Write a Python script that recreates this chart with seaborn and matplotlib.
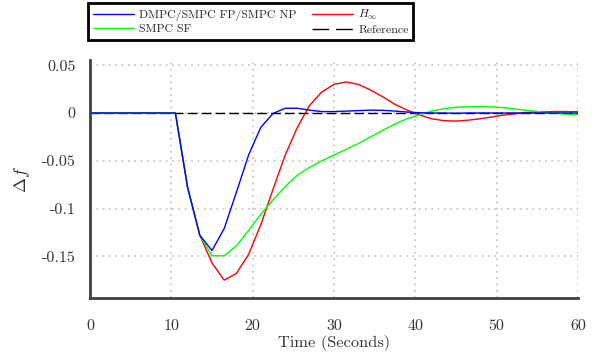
import numpy as np
import pandas as pd
import matplotlib
matplotlib.use("Agg")
import matplotlib.pyplot as plt
import seaborn as sns

# ---- data ----
time_s = [0, 1.5, 3, 4.5, 6, 7.5, 9, 10.5, 12, 13.5, 15, 16.5, 18, 19.5, 21, 22.5,
          24, 25.5, 27, 28.5, 30, 31.5, 33, 34.5, 36, 37.5, 39, 40.5, 42, 43.5,
          45, 46.5, 48, 49.5, 51, 52.5, 54, 55.5, 57, 58.5, 60]
dmpc = [0, 0, 0, 0, 0, 0, 0, 0, -0.078, -0.128, -0.144, -0.121, -0.083, -0.044,
        -0.015, -0.0005, 0.005, 0.005, 0.003, 0.0015, 0.0015, 0.002, 0.0025, 0.003,
        0.0028, 0.002, 0.001, 0.0003, 0, 0, -0.0003, 0, 0, 0, 0, 0, 0, 0, 0, 0, 0]
smpc_sf = [0, 0, 0, 0, 0, 0, 0, 0, -0.078, -0.128, -0.1495, -0.1495, -0.139, -0.123,
           -0.106, -0.091, -0.077, -0.065, -0.057, -0.050, -0.044, -0.038, -0.032,
           -0.025, -0.018, -0.0115, -0.006, -0.002, 0.002, 0.0045, 0.006, 0.0065,
           0.0068, 0.0063, 0.0055, 0.004, 0.0025, 0.001, 0, -0.001, -0.0018]
h_inf = [0, 0, 0, 0, 0, 0, 0, 0, -0.078, -0.128, -0.157, -0.175, -0.168, -0.148,
         -0.117, -0.080, -0.044, -0.015, 0.008, 0.022, 0.030, 0.0325, 0.030, 0.024,
         0.017, 0.009, 0.003, -0.002, -0.006, -0.008, -0.0085, -0.0075, -0.006,
         -0.004, -0.002, -0.0005, 0.0007, 0.0012, 0.0015, 0.0015, 0.0014]
reference = [0.0] * len(time_s)

labels = ["DMPC/SMPC FP/SMPC NP", "SMPC SF", r"$H_\infty$", "Reference"]
x_ticks = [0, 10, 20, 30, 40, 50, 60]
y_ticks = [-0.15, -0.1, -0.05, 0, 0.05]
y_tick_labels = ["-0.15", "-0.1", "-0.05", "0", "0.05"]

# ---- style ----
sns.set_theme(style="white")
plt.rcParams["font.family"] = ["cmr10", "DejaVu Serif"]
plt.rcParams["mathtext.fontset"] = "cm"
plt.rcParams["axes.unicode_minus"] = False
plt.rcParams["axes.formatter.use_mathtext"] = True

W, H = 602, 357
fig = plt.figure(figsize=(W / 100, H / 100), dpi=100)
ax = fig.add_axes([90 / W, 1 - 298 / H, (578 - 90) / W, (298 - 60) / H])

df = pd.DataFrame({"t": time_s, "dmpc": dmpc, "sf": smpc_sf, "hinf": h_inf, "ref": reference})

sns.lineplot(data=df, x="t", y="ref", ax=ax, color="black", lw=1.0,
             label=labels[3], zorder=2)
ax.lines[-1].set_dashes((7, 3))
sns.lineplot(data=df, x="t", y="hinf", ax=ax, color="#ff0000", lw=1.0, label=labels[2], zorder=3)
sns.lineplot(data=df, x="t", y="sf", ax=ax, color="#00ff00", lw=1.0, label=labels[1], zorder=4)
sns.lineplot(data=df, x="t", y="dmpc", ax=ax, color="#0000ff", lw=1.0, label=labels[0], zorder=5)

ax.set_xlim(0, 60)
ax.set_ylim(-0.1937, 0.0555)
ax.set_xticks(x_ticks)
ax.set_xticklabels([str(v) for v in x_ticks])
ax.set_yticks(y_ticks)
ax.set_yticklabels(y_tick_labels)

ax.grid(True, color="#c8c8c8", linestyle=(0, (1, 2.5)), linewidth=1.3)
ax.set_axisbelow(True)

for s in ["top", "right"]:
    ax.spines[s].set_visible(False)
for s in ["left", "bottom"]:
    ax.spines[s].set_color("#404040")
    ax.spines[s].set_linewidth(2.0)
ax.tick_params(axis="both", direction="out", length=7, width=2.0, color="#404040",
               labelsize=11.5, labelcolor="#333333")
ax.tick_params(axis="x", pad=8)
ax.tick_params(axis="y", pad=3.5)

ax.set_xlabel("Time (Seconds)", fontsize=11.8, color="#333333", labelpad=1.5)
ax.set_ylabel(r"$\Delta f$", fontsize=13, color="#333333", labelpad=7)

handles, labs = ax.get_legend_handles_labels()
order = [labs.index(l) for l in labels]
leg = ax.legend([handles[i] for i in order], [labs[i] for i in order], ncol=2,
                loc="upper left", bbox_to_anchor=(88 / W, 1 - 3 / H),
                bbox_transform=fig.transFigure, borderaxespad=0, fontsize=8.6,
                frameon=True, fancybox=False, framealpha=1, edgecolor="black",
                handlelength=3.45, handletextpad=0.42, columnspacing=1.3,
                labelspacing=0.22, borderpad=0.4)
leg.get_frame().set_linewidth(2.0)
leg.get_lines()[3].set_dashes((12, 5))

fig.savefig("out.png", dpi=100)
